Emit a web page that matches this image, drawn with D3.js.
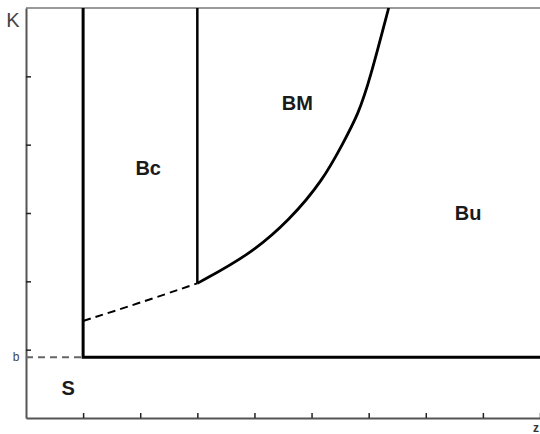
<!DOCTYPE html>
<meta charset="utf-8">
<head>
	<style>
		body { margin:0; background:#fff }
		text { font-family: "Liberation Sans", Arial, sans-serif }
		.axis path, .axis line { stroke:#555 }
		.region { font-weight:bold; font-size:20px; fill:#1a1a1a }
	</style>
	<script src="https://d3js.org/d3.v7.min.js"></script>
</head>
<body>
</body>
<script>

	// axis ticks (no labels, just marks)
	var xTicks = [1, 2, 3, 4, 5, 6, 7, 8, 9],
		yTicks = [1, 2, 3, 4, 5];

	var b = 0.89;   // the "b" level on K

	// boundary between BM and Bu (solid), starting where the Bc/BM wall stops
	var bmCurve = [[3.0, 1.97], [3.92, 2.39], [4.62, 2.9], [5.2, 3.48], [5.55, 4.02],
		[5.82, 4.45], [6.02, 4.95], [6.35, 6.0]];
	// its continuation under Bc (dashed)
	var dashCurve = [[1.0, 1.42], [1.94, 1.67], [3.0, 1.97]];

	var regions = ["Bc", "BM", "Bu", "S"],
		regionX = [2.14, 4.75, 7.74, 0.74],
		regionY = [3.66, 4.61, 3.0, 0.44];

	var width = 540, height = 434;
	var margin = {left:26, top:8, right:0, bottom:16};

	var x = d3.scaleLinear().domain([0, 9]).range([margin.left, width - margin.right]),
		y = d3.scaleLinear().domain([0, 6]).range([height - margin.bottom, margin.top]);

	var svg = d3.select("body").append("svg")
		.attr("width", width)
		.attr("height", height)

	// top frame line
	svg.append("line")
		.attr("x1", x(0)).attr("x2", x(9))
		.attr("y1", y(6)).attr("y2", y(6))
		.style("stroke", "#777").style("stroke-width", 1.5)

	svg.append("g")
		.attr("class", "axis")
		.attr("transform", "translate(" + x(0) + ",0)")
		.call(d3.axisLeft(y).tickValues(yTicks).tickSize(-5).tickSizeOuter(0).tickFormat(""))
		.call(function(g) {
			g.select(".domain").style("stroke-width", 2)
			g.selectAll(".tick line").style("stroke", "#222").style("stroke-width", 1.5)
		})

	svg.append("g")
		.attr("class", "axis")
		.attr("transform", "translate(0," + y(0) + ")")
		.call(d3.axisBottom(x).tickValues(xTicks).tickSize(-5).tickSizeOuter(0).tickFormat(""))
		.call(function(g) {
			g.select(".domain").style("stroke-width", 2)
			g.selectAll(".tick line").style("stroke", "#222").style("stroke-width", 1.5)
		})

	var line = d3.line()
		.x(function(d) {return x(d[0])})
		.y(function(d) {return y(d[1])})

	// dashed b level to the left of the S/B wall
	svg.append("line")
		.attr("x1", x(0)).attr("x2", x(1))
		.attr("y1", y(b)).attr("y2", y(b))
		.style("stroke", "#666").style("stroke-width", 2)
		.style("stroke-dasharray", "7,5")

	// S boundary: horizontal at b, then up along z = 1
	svg.append("path")
		.attr("d", line([[9, b], [1, b], [1, 6]]))
		.style("fill", "none").style("stroke", "#000").style("stroke-width", 3)

	// Bc / BM wall at z = 3
	svg.append("path")
		.attr("d", line([[3, bmCurve[0][1]], [3, 6]]))
		.style("fill", "none").style("stroke", "#000").style("stroke-width", 2.5)

	line.curve(d3.curveBasis)

	svg.append("path")
		.attr("d", line(dashCurve))
		.style("fill", "none").style("stroke", "#000").style("stroke-width", 2)
		.style("stroke-dasharray", "8,5")

	svg.append("path")
		.attr("d", line(bmCurve))
		.style("fill", "none").style("stroke", "#000").style("stroke-width", 2.8)

	svg.selectAll(".region")
		.data(regions)
	  .enter().append("text")
		.attr("class", "region")
		.attr("x", function(d, i) {return x(regionX[i])})
		.attr("y", function(d, i) {return y(regionY[i])})
		.attr("dy", "0.35em")
		.attr("text-anchor", "middle")
		.text(function(d) {return d})

	svg.append("text")
		.attr("x", 13).attr("y", 20).attr("dy", "0.35em")
		.attr("text-anchor", "middle")
		.style("font-size", "20px").style("fill", "#444")
		.text("K")

	svg.append("text")
		.attr("x", 16).attr("y", y(b)).attr("dy", "0.35em")
		.attr("text-anchor", "middle")
		.style("font-size", "12px").style("fill", "#444")
		.text("b")

	svg.append("text")
		.attr("x", 536).attr("y", 428).attr("dy", "0.35em")
		.attr("text-anchor", "middle")
		.style("font-size", "12px").style("font-weight", "bold").style("fill", "#333")
		.text("z")

</script>
